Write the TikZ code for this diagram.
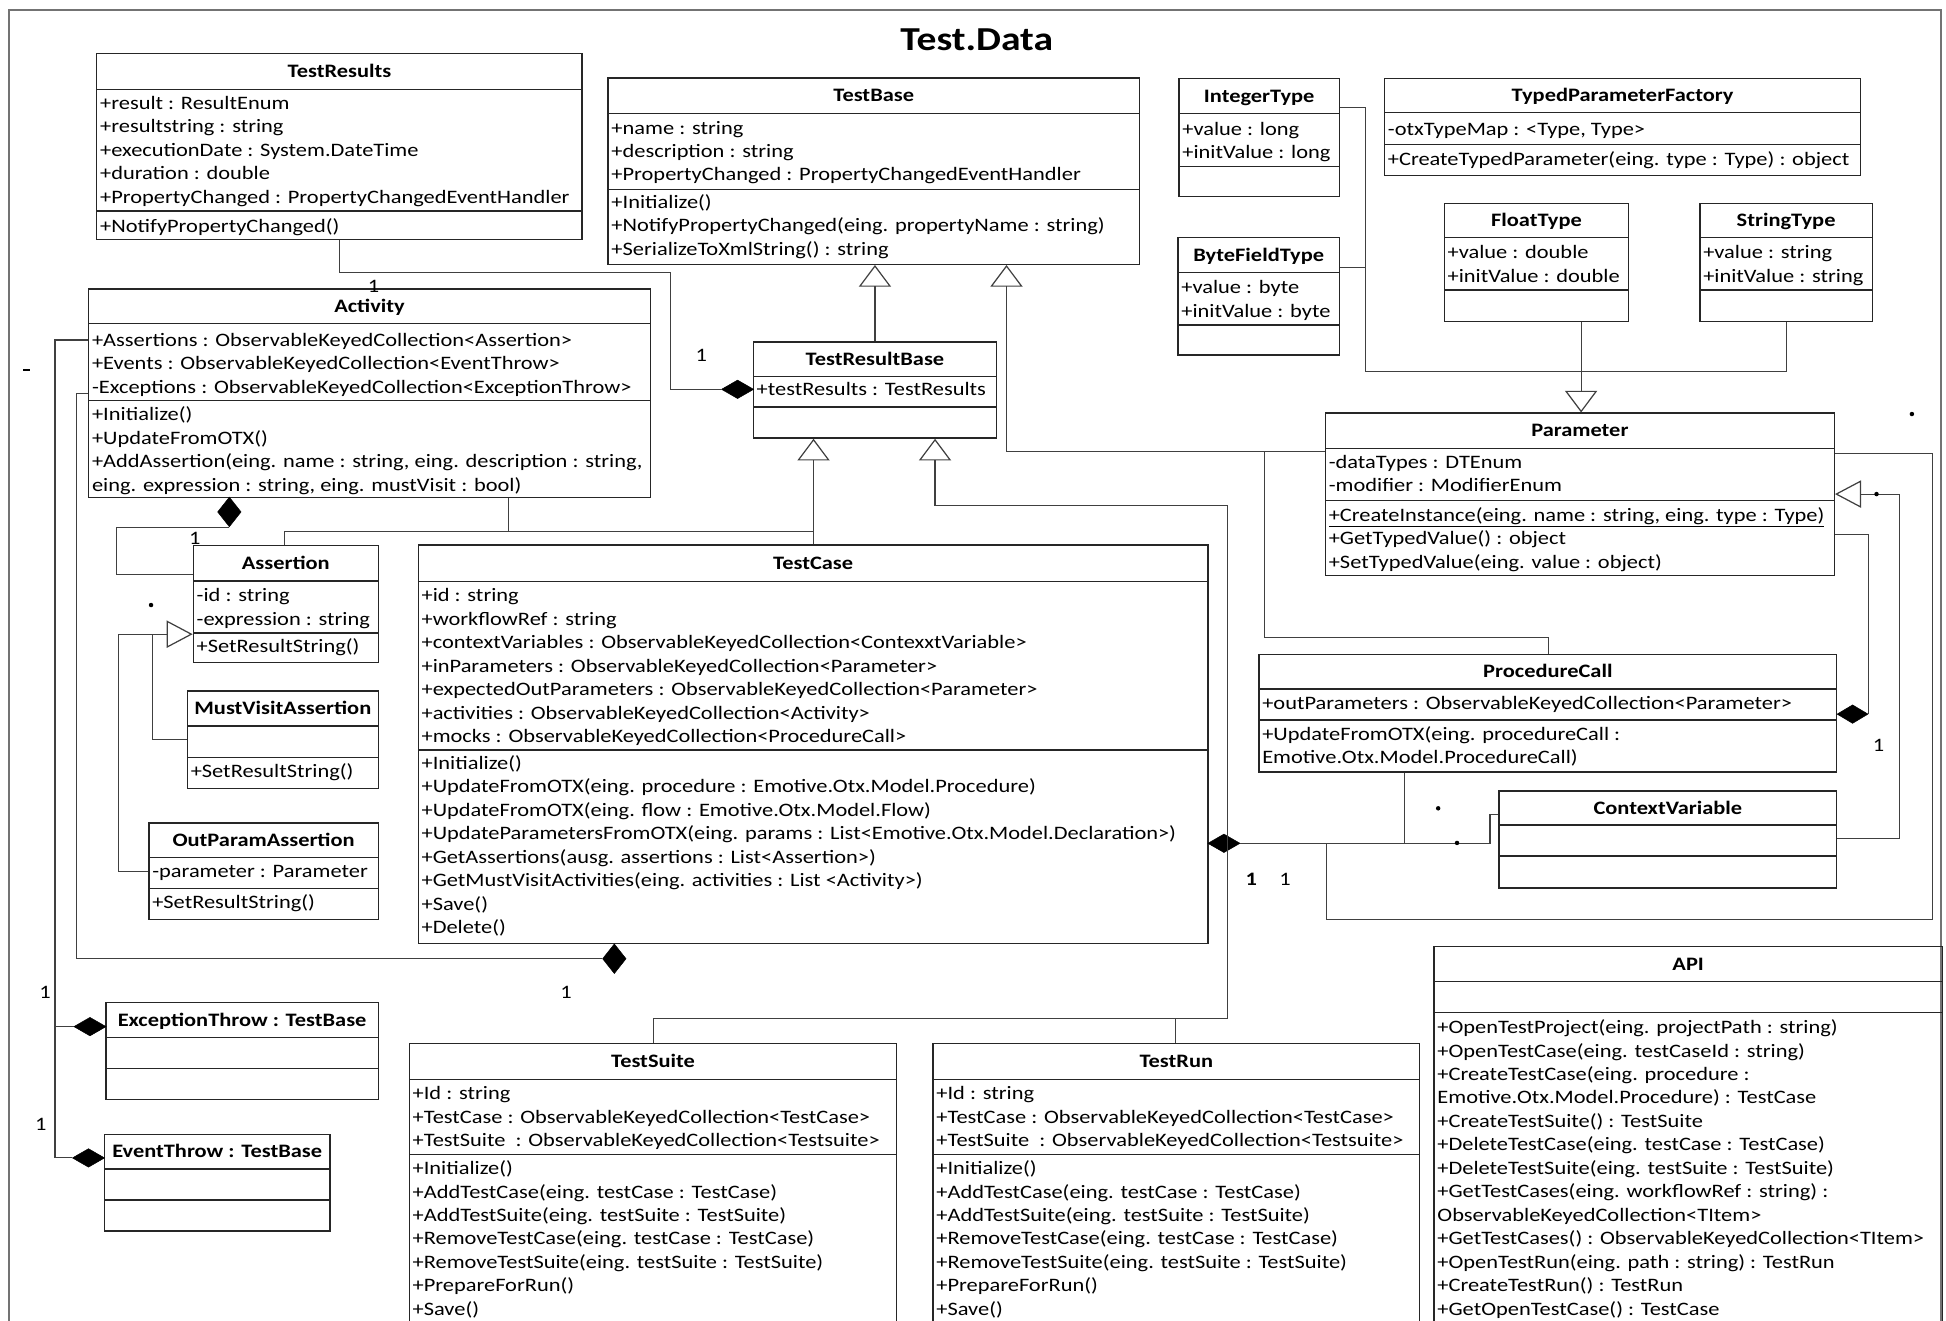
\documentclass[tikz,border=0pt]{standalone}
\usepackage{fontspec}
\setmainfont{Carlito}[FakeStretch=1.18]
\usetikzlibrary{arrows.meta,shapes.geometric,fit}

\tikzset{
  classbox/.style={draw=black!85, line width=1.1pt, inner sep=0pt},
  sepline/.style={draw=black!85, line width=1.1pt},
  titletext/.style={font=\fontsize{15.3}{18.9}\selectfont\bfseries, inner sep=0pt},
  rowtext/.style={font=\fontsize{15.3}{18.9}\selectfont, inner sep=0pt},
  pkgtitle/.style={font=\fontsize{27}{32}\selectfont\bfseries, inner sep=0pt},
  link/.style={draw=black!75, line width=0.9pt},
  gen/.style={link, -{Triangle[open, length=17.5pt, width=26pt, line width=1pt]}},
  genh/.style={link, -{Triangle[open, length=21pt, width=22pt, line width=1pt]}},
  dmd/.style={diamond, fill=black, draw=black, line width=0.4pt, inner sep=0pt,
              minimum width=26pt, minimum height=15pt},
  dmdv/.style={dmd, minimum width=19pt, minimum height=24pt},
  mult/.style={font=\fontsize{15.3}{18.9}\selectfont, inner sep=0pt},
  multb/.style={mult, font=\fontsize{15.3}{18.9}\selectfont\bfseries},
  blackdot/.style={circle, fill=black, inner sep=0pt, minimum size=3.6pt},
  framerule/.style={draw=black!55, line width=1.8pt},
}

% class box: name, x1, x2, top, header line, separator line, bottom, title
\newcommand\umlclass[8]{%
  \node[classbox, fit={(#2,#4) (#3,#7)}] (#1) {};
  \draw[sepline] (#2,#5) -- (#3,#5);
  \draw[sepline] (#2,#6) -- (#3,#6);
  \node[titletext, anchor=base] (#1-title) at ({(#2+#3)/2},{(#4+#5)/2+5}) {#8};
}
% compartment rows: prefix, box left x, centre of first row, list of rows
\newcommand\umlrows[4]{%
  \foreach \rowtxt [count=\k from 0] in {#4}
    \node[rowtext, anchor=base west] (#1-\k) at ({#2+2.5},{#3+5+\k*18.9}) {\rowtxt};
}

\begin{document}
\begin{tikzpicture}[x=1pt, y=-1pt]
\useasboundingbox (0,0) rectangle (1568,1064);
\clip (0,0) rectangle (1568,1064);

% package frame and name
\draw[framerule] (7,1090) -- (7,8) -- (1564,8) -- (1564,1090);
\node[pkgtitle, anchor=base] (pkg) at (787,40.3) {Test.Data};

% ---------------- classes ----------------
\umlclass{TestResults}{78}{469}{43}{72}{170}{193}{TestResults}
\umlrows{TestResults-a}{78}{83}{+result : ResultEnum, +resultstring : string,
  +executionDate : System.DateTime, +duration : double,
  +PropertyChanged : PropertyChangedEventHandler}
\umlrows{TestResults-m}{78}{182}{+NotifyPropertyChanged()}

\umlclass{TestBase}{490}{918}{63}{91.3}{152.6}{213}{TestBase}
\umlrows{TestBase-a}{490}{103}{+name : string, +description : string,
  +PropertyChanged : PropertyChangedEventHandler}
\umlrows{TestBase-m}{490}{163}{+Initialize(),
  +NotifyPropertyChanged(eing. propertyName : string),
  +SerializeToXmlString() : string}

\umlclass{Activity}{71.5}{524}{233}{260.5}{322.5}{401}{Activity}
\umlrows{Activity-a}{71.5}{274}{+Assertions : ObservableKeyedCollection<Assertion>,
  +Events : ObservableKeyedCollection<EventThrow>,
  -Exceptions : ObservableKeyedCollection<ExceptionThrow>}
\umlrows{Activity-m}{71.5}{334}{+Initialize(), +UpdateFromOTX(),
  {+AddAssertion(eing. name : string, eing. description : string,},
  {eing. expression : string, eing. mustVisit : bool)}}

\umlclass{TestResultBase}{607}{803}{275.5}{303.5}{328}{353}{TestResultBase}
\umlrows{TestResultBase-a}{607}{314}{+testResults : TestResults}

\umlclass{Assertion}{155.8}{304.8}{439.7}{468}{510}{534}{Assertion}
\umlrows{Assertion-a}{155.8}{480}{-id : string, -expression : string}
\umlrows{Assertion-m}{155.8}{521}{+SetResultString()}

\umlclass{MustVisitAssertion}{151}{304.8}{556.8}{585}{610.5}{635.2}{MustVisitAssertion}
\umlrows{MustVisitAssertion-m}{151}{621.8}{+SetResultString()}

\umlclass{OutParamAssertion}{120}{304.8}{663}{691}{715.8}{740.7}{OutParamAssertion}
\umlrows{OutParamAssertion-a}{120}{702.4}{-parameter : Parameter}
\umlrows{OutParamAssertion-m}{120}{727.3}{+SetResultString()}

\umlclass{TestCase}{337}{973.4}{439}{468.7}{604.3}{760}{TestCase}
\umlrows{TestCase-a}{337}{480}{+id : string, +workflowRef : string,
  +contextVariables : ObservableKeyedCollection<ContexxtVariable>,
  +inParameters : ObservableKeyedCollection<Parameter>,
  +expectedOutParameters : ObservableKeyedCollection<Parameter>,
  +activities : ObservableKeyedCollection<Activity>,
  +mocks : ObservableKeyedCollection<ProcedureCall>}
\umlrows{TestCase-m}{337}{615}{+Initialize(),
  +UpdateFromOTX(eing. procedure : Emotive.Otx.Model.Procedure),
  +UpdateFromOTX(eing. flow : Emotive.Otx.Model.Flow),
  +UpdateParametersFromOTX(eing. params : List<Emotive.Otx.Model.Declaration>),
  +GetAssertions(ausg. assertions : List<Assertion>),
  +GetMustVisitActivities(eing. activities : List <Activity>),
  +Save(), +Delete()}

\umlclass{ExceptionThrow}{85.4}{304.8}{808}{836}{860.8}{885.8}{ExceptionThrow : TestBase}
\umlclass{EventThrow}{84}{266}{914}{942}{967}{992}{EventThrow : TestBase}

\umlclass{TestSuite}{329.8}{722.5}{841}{870}{930}{1090}{TestSuite}
\umlrows{TestSuite-a}{329.8}{881}{+Id : string,
  +TestCase : ObservableKeyedCollection<TestCase>,
  +TestSuite\ \ : ObservableKeyedCollection<Testsuite>}
\umlrows{TestSuite-m}{329.8}{941.4}{+Initialize(),
  +AddTestCase(eing. testCase : TestCase),
  +AddTestSuite(eing. testSuite : TestSuite),
  +RemoveTestCase(eing. testCase : TestCase),
  +RemoveTestSuite(eing. testSuite : TestSuite),
  +PrepareForRun(), +Save()}

\umlclass{TestRun}{751.8}{1143.8}{841}{870}{930}{1090}{TestRun}
\umlrows{TestRun-a}{751.8}{881}{+Id : string,
  +TestCase : ObservableKeyedCollection<TestCase>,
  +TestSuite\ \ : ObservableKeyedCollection<Testsuite>}
\umlrows{TestRun-m}{751.8}{941.4}{+Initialize(),
  +AddTestCase(eing. testCase : TestCase),
  +AddTestSuite(eing. testSuite : TestSuite),
  +RemoveTestCase(eing. testCase : TestCase),
  +RemoveTestSuite(eing. testSuite : TestSuite),
  +PrepareForRun(), +Save()}

\umlclass{API}{1155.5}{1565}{762.8}{791}{816}{1090}{API}
\umlrows{API-m}{1155.5}{827.8}{+OpenTestProject(eing. projectPath : string),
  +OpenTestCase(eing. testCaseId : string),
  +CreateTestCase(eing. procedure :,
  Emotive.Otx.Model.Procedure) : TestCase,
  +CreateTestSuite() : TestSuite,
  +DeleteTestCase(eing. testCase : TestCase),
  +DeleteTestSuite(eing. testSuite : TestSuite),
  +GetTestCases(eing. workflowRef : string) :,
  ObservableKeyedCollection<TItem>,
  +GetTestCases() : ObservableKeyedCollection<TItem>,
  +OpenTestRun(eing. path : string) : TestRun,
  +CreateTestRun() : TestRun,
  +GetOpenTestCase() : TestCase}

\umlclass{IntegerType}{950}{1079.2}{63.1}{91.3}{134.3}{158.5}{IntegerType}
\umlrows{IntegerType-a}{950}{104}{+value : long, +initValue : long}

\umlclass{ByteFieldType}{949.2}{1079.2}{191.5}{219.4}{261.9}{286}{ByteFieldType}
\umlrows{ByteFieldType-a}{949.2}{231.8}{+value : byte, +initValue : byte}

\umlclass{TypedParameterFactory}{1115.6}{1499.3}{63.1}{90.8}{116.3}{141.5}{TypedParameterFactory}
\umlrows{TypedParameterFactory-a}{1115.6}{104}{{-otxTypeMap : <Type, Type>}}
\umlrows{TypedParameterFactory-m}{1115.6}{128.4}{+CreateTypedParameter(eing. type : Type) : object}

\umlclass{FloatType}{1163.7}{1312.3}{163.8}{191.5}{233.7}{259.2}{FloatType}
\umlrows{FloatType-a}{1163.7}{203.6}{+value : double, +initValue : double}

\umlclass{StringType}{1369.7}{1508.6}{163.8}{191.5}{233.7}{259.2}{StringType}
\umlrows{StringType-a}{1369.7}{203.6}{+value : string, +initValue : string}

\umlclass{Parameter}{1068}{1478}{332.9}{361.3}{403.1}{463.6}{Parameter}
\umlrows{Parameter-a}{1068}{372.5}{-dataTypes : DTEnum, -modifier : ModifierEnum}
\umlrows{Parameter-m}{1068}{415.1}{{\underline{+CreateInstance(eing. name : string, eing. type : Type)}},
  +GetTypedValue() : object,
  +SetTypedValue(eing. value : object)}

\umlclass{ProcedureCall}{1014.4}{1480}{527.2}{555.1}{580.2}{622}{ProcedureCall}
\umlrows{ProcedureCall-a}{1014.4}{566.3}{+outParameters : ObservableKeyedCollection<Parameter>}
\umlrows{ProcedureCall-m}{1014.4}{591.3}{+UpdateFromOTX(eing. procedureCall :,
  Emotive.Otx.Model.ProcedureCall)}

\umlclass{ContextVariable}{1207.8}{1480}{637.3}{664.7}{689.7}{715.4}{ContextVariable}

% ---------------- composition diamonds ----------------
\node[dmd]  (dTRB) at (594.3,313.7) {};
\node[dmdv] (dAct) at (184.8,412.5) {};
\node[dmd]  (dExc) at (72.5,827.2) {};
\node[dmd]  (dEvt) at (71.3,933) {};
\node[dmdv] (dTC1) at (495,772.5) {};
\node[dmd]  (dTC2) at (986.2,679.5) {};
\node[dmd, minimum width=25pt] (dPC) at (1492.7,575.4) {};

% ---------------- connectors ----------------
% TestResults -- TestResultBase
\draw[link] (dTRB.west) -| (540.5,219.5) -| (TestResults.south -| 273.6,0);

% generalisations onto TestBase
\draw[gen] (TestResultBase.north -| 705,0) -- (TestBase.south -| 705,0);
\draw[gen] (Parameter.west |- 0,364) -| (TestBase.south -| 811,0);
\draw[link] (1019,364) |- (1247.8,513.8) -- (ProcedureCall.north -| 1247.8,0);

% generalisations onto TestResultBase
\draw[gen] (TestCase.north -| 655.5,0) -- (TestResultBase.south -| 655.5,0);
\draw[link] (Activity.south -| 410,0) |- (655.5,428);
\draw[link] (Assertion.north -| 229,0) |- (410,428);
\draw[gen] (TestRun.north -| 947,0) |- (989,820.5) |- (753.4,407)
  -- (TestResultBase.south -| 753.4,0);
\draw[link] (TestSuite.north -| 526.4,0) |- (947,820.5);

% typed parameters onto Parameter
\draw[gen] (1274,299.5) -- (Parameter.north -| 1274,0);
\draw[link] (IntegerType.east |- 0,86.8) -| (1100,299.5) -- (1439.5,299.5)
  -- (StringType.south -| 1439.5,0);
\draw[link] (ByteFieldType.east |- 0,215.4) -- (1100,215.4);
\draw[link] (FloatType.south -| 1274,0) -- (1274,299.5);

% Activity -- Assertion
\draw[link] (dAct.south) -| (94,463) -- (Assertion.west |- 0,463);

% Assertion subclasses
\draw[genh] (95.3,511) -- (Assertion.west |- 0,511);
\draw[link] (MustVisitAssertion.west |- 0,596) -| (123,511);
\draw[link] (OutParamAssertion.west |- 0,702) -| (95.3,511);

% Activity -- ExceptionThrow / EventThrow
\draw[link] (Activity.west |- 0,274) -| (44.3,827.2) -- (dExc.west);
\draw[link] (44.3,827.2) |- (dEvt.west);

% Activity -- TestCase
\draw[link] (Activity.west |- 0,317) -| (61.8,772.5) -- (dTC1.west);

% TestCase -- ContextVariable / ProcedureCall / Parameter
\draw[link] (dTC2.east) -| (1200.6,656) -- (ContextVariable.west |- 0,656);
\draw[link] (ProcedureCall.south -| 1131.6,0) -- (1131.6,679.5);
\draw[link] (1069,679.5) |- (1557,741) |- (Parameter.east |- 0,365.5);

% ContextVariable onto Parameter
\draw[genh] (ContextVariable.east |- 0,675.5) -| (1530.8,398.1)
  -- (Parameter.east |- 0,398.1);

% Parameter -- ProcedureCall
\draw[link] (dPC.east) |- (Parameter.east |- 0,431);

% ---------------- multiplicities and marks ----------------
\node[mult] (m1) at (565,286) {1};
\node[mult] (m2) at (301,231) {1};
\node[mult] (m3) at (157,433.8) {1};
\node[mult] (m4) at (36.3,800) {1};
\node[mult] (m5) at (32.8,905.6) {1};
\node[mult] (m6) at (456,800) {1};
\node[multb] (m7) at (1008.2,708.4) {1};
\node[mult] (m8) at (1035.4,708.4) {1};
\node[mult] (m9) at (1513.7,601) {1};

\node[blackdot] (p1) at (1540.5,333.6) {};
\node[blackdot] (p2) at (121.7,487.5) {};
\node[blackdot] (p3) at (1158.8,651.3) {};
\node[blackdot] (p4) at (1174,679.2) {};
\node[blackdot] (p5) at (1512,398.1) {};
\fill (18.8,297.2) rectangle (24.4,299.2);

\end{tikzpicture}
\end{document}
